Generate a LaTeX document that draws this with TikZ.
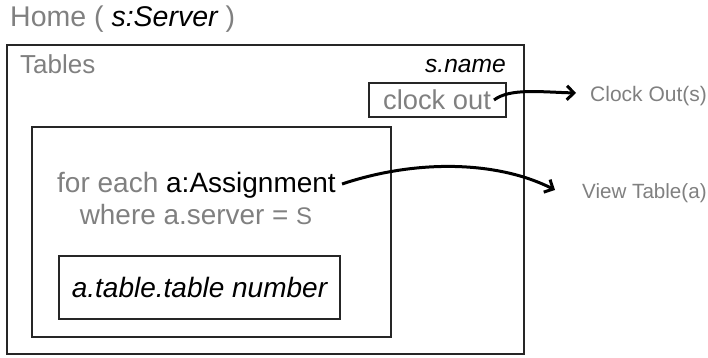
\documentclass[tikz,border=0pt]{standalone}
\usepackage{fontspec}
\setmainfont{Liberation Sans}
\usetikzlibrary{arrows.meta}
\definecolor{txtgray}{RGB}{128,128,128}
\tikzset{
  frame/.style={draw=black!85, line width=1.4pt},
  gtext/.style={text=txtgray, inner sep=0pt},
  btext/.style={text=black, inner sep=0pt},
  flow/.style={line width=3pt, -{Straight Barb[length=7pt,width=14pt,line width=3pt]}}
}
\begin{document}
\begin{tikzpicture}[x=1pt,y=-1pt]
\useasboundingbox (0,0) rectangle (708,358);
% boxes
\draw[frame] (7,45) rectangle (524,354);
\draw[frame] (32,127) rectangle (391,337);
\node[frame, minimum width=137pt, minimum height=34pt, inner sep=0pt] (clock) at (437.5,100) {};
\node[frame, minimum width=281pt, minimum height=63pt, inner sep=0pt] (tbl) at (199.5,287.5) {};
% texts
\node[gtext, anchor=base west, font=\fontsize{28.5}{32}\selectfont] (home) at (10,27) {Home ( \textcolor{black}{\itshape s:Server} )};
\node[gtext, anchor=base west, font=\fontsize{26}{30}\selectfont] (tables) at (20,74) {Tables};
\node[btext, anchor=base east, font=\fontsize{24.6}{28}\selectfont\itshape] (sname) at (506,73) {s.name};
\node[gtext, font=\fontsize{27.3}{31}\selectfont] (clocktxt) at (437,100) {clock out};
\node[gtext, anchor=base west, font=\fontsize{28}{32}\selectfont] (foreach) at (57,192) {for each \textcolor{black}{a:Assignment}};
\node[gtext, anchor=base, font=\fontsize{27.9}{32}\selectfont] (where) at (196,224) {where a.server = {\fontsize{24}{28}\selectfont S}};
\node[btext, font=\fontsize{28}{32}\selectfont\itshape] (tnum) at (tbl.center) {a.table.table number};
\node[gtext, anchor=west, font=\fontsize{21}{25}\selectfont] (co) at (590,96) {Clock Out(s)};
\node[gtext, anchor=west, font=\fontsize{20.6}{24}\selectfont] (vt) at (582,193) {View Table(a)};
% connectors
\coordinate (c1s) at (494,100);
\coordinate (c1e) at (576,93);
\draw[flow] (c1s) .. controls (510,88) and (540,92) .. (c1e);
\coordinate (c2s) at (342,184);
\draw[flow] (c2s) .. controls (420,158) and (500,162) .. (555,190);
\end{tikzpicture}
\end{document}
